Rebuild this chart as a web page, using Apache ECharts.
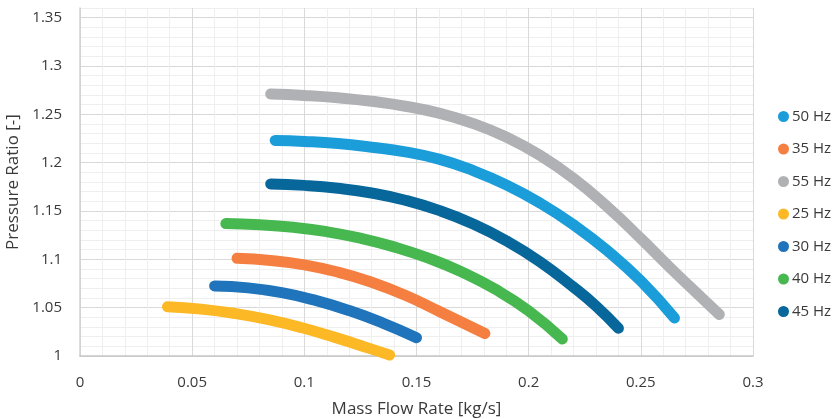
<!DOCTYPE html>
<html>
<head>
<meta charset="utf-8">
<script src="https://cdn.jsdelivr.net/npm/echarts@6/dist/echarts.min.js"></script>
<style>
html,body{margin:0;padding:0;background:#fff;}
#chart{width:835px;height:419px;}
</style>
</head>
<body>
<div id="chart"></div>
<script>
// Series names in legend order
const seriesNames = ['50 Hz', '35 Hz', '55 Hz', '25 Hz', '30 Hz', '40 Hz', '45 Hz'];
const seriesColors = ['#1a9dd9', '#f47f40', '#b0b1b5', '#fdb825', '#1f74bb', '#47b74f', '#07669a'];

// [mass flow rate (kg/s), pressure ratio]
const hz25 = [[0.039,1.051],[0.054,1.0485],[0.069,1.044],[0.084,1.0376],[0.099,1.0292],[0.114,1.019],[0.129,1.0079],[0.138,1.001]];
const hz30 = [[0.060,1.0725],[0.075,1.0705],[0.090,1.0655],[0.105,1.0575],[0.120,1.047],[0.135,1.034],[0.150,1.019]];
const hz35 = [[0.070,1.101],[0.085,1.0988],[0.100,1.0943],[0.115,1.0868],[0.130,1.0763],[0.145,1.0628],[0.160,1.0463],[0.1805,1.0233]];
const hz40 = [[0.065,1.137],[0.080,1.1358],[0.095,1.1331],[0.110,1.1286],[0.125,1.1219],[0.140,1.1129],[0.155,1.1015],[0.170,1.0872],[0.185,1.0692],[0.200,1.0467],[0.215,1.0175]];
const hz45 = [[0.085,1.178],[0.100,1.1765],[0.115,1.1735],[0.130,1.1686],[0.145,1.1611],[0.160,1.1506],[0.175,1.1368],[0.190,1.1192],[0.205,1.0975],[0.220,1.0712],[0.230,1.0517],[0.240,1.0287]];
const hz50 = [[0.087,1.223],[0.100,1.222],[0.115,1.2198],[0.130,1.216],[0.145,1.2112],[0.160,1.2037],[0.175,1.192],[0.190,1.177],[0.205,1.1583],[0.220,1.1358],[0.235,1.1091],[0.250,1.0776],[0.265,1.0393]];
const hz55 = [[0.085,1.271],[0.100,1.2695],[0.115,1.2671],[0.130,1.2635],[0.145,1.2584],[0.160,1.2512],[0.175,1.2407],[0.190,1.2265],[0.205,1.2077],[0.220,1.1837],[0.235,1.1545],[0.250,1.1215],[0.265,1.087],[0.275,1.065],[0.285,1.043]];

const seriesData = {'50 Hz': hz50, '35 Hz': hz35, '55 Hz': hz55, '25 Hz': hz25, '30 Hz': hz30, '40 Hz': hz40, '45 Hz': hz45};

const xTickLabels = ['0', '0.05', '0.1', '0.15', '0.2', '0.25', '0.3'];
const yTickLabels = ['1', '1.05', '1.1', '1.15', '1.2', '1.25', '1.3', '1.35'];

const FONT = 'Open Sans';
const TEXT = '#3a3a3a';
const MAJOR = '#d9d9d9';
const MINOR = '#efefef';
const gridColors = [MAJOR, MINOR, MINOR, MINOR, MINOR];

function fmt(list) {
  return function (v) {
    const k = Math.round(v * 100);
    if (k % 5 !== 0) return '';
    const s = String(k / 100);
    return list.indexOf(s) >= 0 ? s : '';
  };
}

const chart = echarts.init(document.getElementById('chart'), null, {renderer: 'canvas'});
chart.setOption({
  animation: false,
  backgroundColor: '#fff',
  textStyle: {fontFamily: FONT},
  color: seriesColors,
  grid: {left: 80, right: 82, top: 8, bottom: 63, containLabel: false, outerBoundsMode: 'none'},
  legend: {
    orient: 'vertical',
    left: 773,
    top: 104,
    itemGap: 17.5,
    icon: 'circle',
    itemWidth: 11,
    itemHeight: 11,
    data: seriesNames,
    textStyle: {fontFamily: FONT, fontSize: 15, color: TEXT, padding: [0, 0, 0, -2]}
  },
  xAxis: {
    type: 'value',
    min: 0,
    max: 0.3,
    interval: 0.01,
    name: 'Mass Flow Rate [kg/s]',
    nameLocation: 'middle',
    nameGap: 45,
    nameTextStyle: {fontFamily: FONT, fontSize: 17, color: TEXT},
    axisLine: {show: true, lineStyle: {color: '#c6c6c6', width: 1.5}},
    axisTick: {show: false},
    axisLabel: {formatter: fmt(xTickLabels), margin: 19, fontFamily: FONT, fontSize: 15, color: TEXT},
    splitLine: {show: true, lineStyle: {color: gridColors, width: 1}}
  },
  yAxis: {
    type: 'value',
    min: 1,
    max: 1.36,
    interval: 0.01,
    name: 'Pressure Ratio [-]',
    nameLocation: 'middle',
    nameGap: 53,
    nameTextStyle: {fontFamily: FONT, fontSize: 17, color: TEXT},
    axisLine: {show: true, lineStyle: {color: '#d0d0d0', width: 1.5}},
    axisTick: {show: false},
    axisLabel: {formatter: fmt(yTickLabels), margin: 18, fontFamily: FONT, fontSize: 15, color: TEXT},
    splitLine: {show: true, lineStyle: {color: gridColors, width: 1}}
  },
  series: seriesNames.map(function (name, i) {
    return {
      name: name,
      type: 'line',
      data: seriesData[name],
      smooth: 0.5,
      showSymbol: false,
      symbol: 'circle',
      lineStyle: {width: 11, cap: 'round', join: 'round', color: seriesColors[i]},
      itemStyle: {color: seriesColors[i]}
    };
  })
});
</script>
</body>
</html>
